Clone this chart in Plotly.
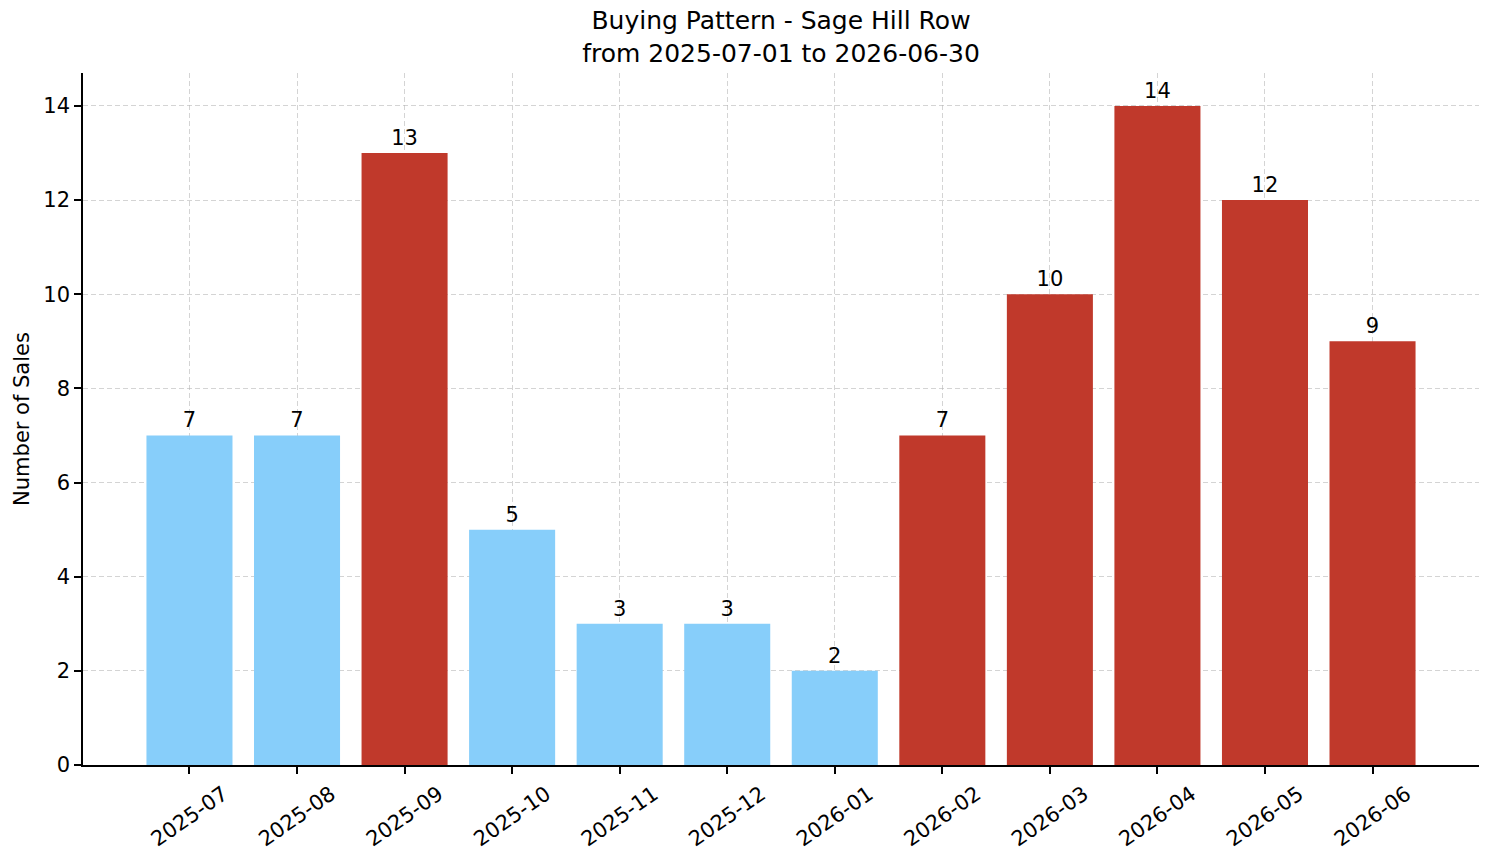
import plotly.graph_objects as go

months = ["2025-07", "2025-08", "2025-09", "2025-10", "2025-11", "2025-12",
          "2026-01", "2026-02", "2026-03", "2026-04", "2026-05", "2026-06"]
sales = [7, 7, 13, 5, 3, 3, 2, 7, 10, 14, 12, 9]
period = ["low", "low", "high", "low", "low", "low",
          "low", "high", "high", "high", "high", "high"]
y_ticks = [0, 2, 4, 6, 8, 10, 12, 14]

color_map = {"low": "#87CEFA", "high": "#C0392B"}
bar_colors = [color_map[p] for p in period]

FONT = "DejaVu Sans"

fig = go.Figure()
fig.add_trace(go.Bar(
    x=list(range(len(months))),
    y=sales,
    marker=dict(color=bar_colors, line=dict(width=0)),
    text=[str(v) for v in sales],
    textposition="outside",
    textfont=dict(family=FONT, size=21, color="black"),
    cliponaxis=False,
    width=0.8,
    hoverinfo="x+y",
))

grid_color = "rgba(176,176,176,0.55)"

fig.update_layout(
    width=1494, height=863,
    margin=dict(l=83, r=15, t=73, b=96),
    plot_bgcolor="white", paper_bgcolor="white",
    font=dict(family=FONT, size=21, color="black"),
    showlegend=False,
    title=dict(
        text="Buying Pattern - Sage Hill Row<br>from 2025-07-01 to 2026-06-30",
        x=0.5, xref="paper", xanchor="center",
        y=1 - 29 / 863, yref="container", yanchor="top",
        font=dict(family=FONT, size=25, color="black"),
    ),
    xaxis=dict(
        range=[-0.99, 11.99],
        tickmode="array",
        tickvals=list(range(len(months))),
        ticktext=months,
        tickangle=-35,
        ticklabelshift=34,
        ticklabelstandoff=0,
        ticks="outside", ticklen=7, tickwidth=1.5, tickcolor="black",
        showline=True, linecolor="black", linewidth=1.5,
        showgrid=True, gridcolor=grid_color, gridwidth=1, griddash="5px,3px",
        zeroline=False,
        tickfont=dict(family=FONT, size=21, color="black"),
    ),
    yaxis=dict(
        range=[0, 14.7],
        tickmode="array",
        tickvals=y_ticks,
        ticks="outside", ticklen=7, tickwidth=1.5, tickcolor="black",
        showline=True, linecolor="black", linewidth=1.5,
        showgrid=True, gridcolor=grid_color, gridwidth=1, griddash="5px,3px",
        zeroline=False,
        tickfont=dict(family=FONT, size=21, color="black"),
        title=dict(text="Number of Sales", standoff=8,
                   font=dict(family=FONT, size=21, color="black")),
    ),
)

fig.write_html("out.html")
